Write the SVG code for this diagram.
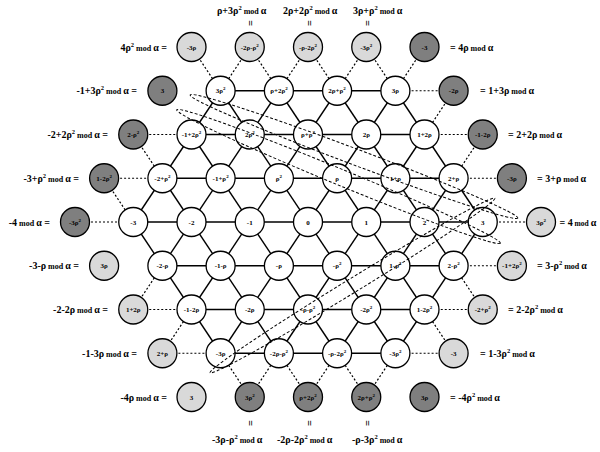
<svg xmlns="http://www.w3.org/2000/svg" width="600" height="452" viewBox="0 0 600 452">
<style>
text{font-family:"Liberation Serif","Times New Roman",serif;font-weight:bold;fill:#000}
.nl{font-size:7px;text-anchor:middle}
.sp{font-size:5px}
.lat line{stroke:#000;stroke-width:1.4}
.dot line{stroke:#000;stroke-width:1.2;stroke-dasharray:2 2}
.ell ellipse{fill:none;stroke:#000;stroke-width:1;stroke-dasharray:3 2}
circle{stroke:#000;stroke-width:1.3}
.w{fill:#fff}.l{fill:#d9d9d9}.d{fill:#7f7f7f}
.lab{font-size:10px}
.m{font-size:8px}
.s2{font-size:6.5px}
.eq{font-size:10px;text-anchor:middle}
</style>
<g id="connectors">
<g class="lat">
<line x1="220.6" y1="90.75" x2="395.4" y2="90.75"/>
<line x1="191.5" y1="134.5" x2="424.5" y2="134.5"/>
<line x1="162.4" y1="178.25" x2="453.6" y2="178.25"/>
<line x1="133.25" y1="222" x2="482.75" y2="222"/>
<line x1="162.4" y1="265.75" x2="453.6" y2="265.75"/>
<line x1="191.5" y1="309.5" x2="424.5" y2="309.5"/>
<line x1="220.6" y1="353.25" x2="395.4" y2="353.25"/>
<line x1="133.25" y1="222" x2="220.6" y2="353.25"/>
<line x1="162.4" y1="178.25" x2="278.9" y2="353.25"/>
<line x1="191.5" y1="134.5" x2="337.1" y2="353.25"/>
<line x1="220.6" y1="90.75" x2="395.4" y2="353.25"/>
<line x1="278.9" y1="90.75" x2="424.5" y2="309.5"/>
<line x1="337.1" y1="90.75" x2="453.6" y2="265.75"/>
<line x1="395.4" y1="90.75" x2="482.75" y2="222"/>
<line x1="482.75" y1="222" x2="395.4" y2="353.25"/>
<line x1="453.6" y1="178.25" x2="337.1" y2="353.25"/>
<line x1="424.5" y1="134.5" x2="278.9" y2="353.25"/>
<line x1="395.4" y1="90.75" x2="220.6" y2="353.25"/>
<line x1="337.1" y1="90.75" x2="191.5" y2="309.5"/>
<line x1="278.9" y1="90.75" x2="162.4" y2="265.75"/>
<line x1="220.6" y1="90.75" x2="133.25" y2="222"/>
</g>
<g class="dot">
<line x1="191.5" y1="47" x2="220.6" y2="90.75"/>
<line x1="249.75" y1="47" x2="220.6" y2="90.75"/>
<line x1="249.75" y1="47" x2="278.9" y2="90.75"/>
<line x1="308" y1="47" x2="278.9" y2="90.75"/>
<line x1="308" y1="47" x2="337.1" y2="90.75"/>
<line x1="366.25" y1="47" x2="337.1" y2="90.75"/>
<line x1="366.25" y1="47" x2="395.4" y2="90.75"/>
<line x1="424.5" y1="47" x2="395.4" y2="90.75"/>
<line x1="453.6" y1="90.75" x2="395.4" y2="90.75"/>
<line x1="453.6" y1="90.75" x2="424.5" y2="134.5"/>
<line x1="482.75" y1="134.5" x2="424.5" y2="134.5"/>
<line x1="482.75" y1="134.5" x2="453.6" y2="178.25"/>
<line x1="511.9" y1="178.25" x2="453.6" y2="178.25"/>
<line x1="541" y1="222" x2="482.75" y2="222"/>
<line x1="511.9" y1="265.75" x2="453.6" y2="265.75"/>
<line x1="482.75" y1="309.5" x2="424.5" y2="309.5"/>
<line x1="482.75" y1="309.5" x2="453.6" y2="265.75"/>
<line x1="453.6" y1="353.25" x2="395.4" y2="353.25"/>
<line x1="453.6" y1="353.25" x2="424.5" y2="309.5"/>
<line x1="366.25" y1="397" x2="395.4" y2="353.25"/>
<line x1="366.25" y1="397" x2="337.1" y2="353.25"/>
<line x1="308" y1="397" x2="337.1" y2="353.25"/>
<line x1="308" y1="397" x2="278.9" y2="353.25"/>
<line x1="249.75" y1="397" x2="278.9" y2="353.25"/>
<line x1="249.75" y1="397" x2="220.6" y2="353.25"/>
<line x1="162.4" y1="353.25" x2="220.6" y2="353.25"/>
<line x1="162.4" y1="353.25" x2="191.5" y2="309.5"/>
<line x1="133.25" y1="309.5" x2="191.5" y2="309.5"/>
<line x1="133.25" y1="309.5" x2="162.4" y2="265.75"/>
<line x1="75" y1="222" x2="133.25" y2="222"/>
<line x1="104.1" y1="178.25" x2="162.4" y2="178.25"/>
<line x1="104.1" y1="178.25" x2="133.25" y2="222"/>
<line x1="133.25" y1="134.5" x2="191.5" y2="134.5"/>
<line x1="133.25" y1="134.5" x2="162.4" y2="178.25"/>
</g>
</g>
<g id="nodes">
<g id="n1"><circle class="w" cx="220.6" cy="90.75" r="14.5"/><text class="nl" x="220.6" y="93.25">3ρ<tspan class="sp" dy="-3">2</tspan></text></g>
<g id="n2"><circle class="w" cx="278.9" cy="90.75" r="14.5"/><text class="nl" x="278.9" y="93.25">ρ+2ρ<tspan class="sp" dy="-3">2</tspan></text></g>
<g id="n3"><circle class="w" cx="337.1" cy="90.75" r="14.5"/><text class="nl" x="337.1" y="93.25">2ρ+ρ<tspan class="sp" dy="-3">2</tspan></text></g>
<g id="n4"><circle class="w" cx="395.4" cy="90.75" r="14.5"/><text class="nl" x="395.4" y="93.25">3ρ</text></g>
<g id="n5"><circle class="w" cx="191.5" cy="134.5" r="14.5"/><text class="nl" x="191.5" y="137">-1+2ρ<tspan class="sp" dy="-3">2</tspan></text></g>
<g id="n6"><circle class="w" cx="249.75" cy="134.5" r="14.5"/><text class="nl" x="249.75" y="137">2ρ<tspan class="sp" dy="-3">2</tspan></text></g>
<g id="n7"><circle class="w" cx="308" cy="134.5" r="14.5"/><text class="nl" x="308" y="137">ρ+ρ<tspan class="sp" dy="-3">2</tspan></text></g>
<g id="n8"><circle class="w" cx="366.25" cy="134.5" r="14.5"/><text class="nl" x="366.25" y="137">2ρ</text></g>
<g id="n9"><circle class="w" cx="424.5" cy="134.5" r="14.5"/><text class="nl" x="424.5" y="137">1+2ρ</text></g>
<g id="n10"><circle class="w" cx="162.4" cy="178.25" r="14.5"/><text class="nl" x="162.4" y="180.75">-2+ρ<tspan class="sp" dy="-3">2</tspan></text></g>
<g id="n11"><circle class="w" cx="220.6" cy="178.25" r="14.5"/><text class="nl" x="220.6" y="180.75">-1+ρ<tspan class="sp" dy="-3">2</tspan></text></g>
<g id="n12"><circle class="w" cx="278.9" cy="178.25" r="14.5"/><text class="nl" x="278.9" y="180.75">ρ<tspan class="sp" dy="-3">2</tspan></text></g>
<g id="n13"><circle class="w" cx="337.1" cy="178.25" r="14.5"/><text class="nl" x="337.1" y="180.75">ρ</text></g>
<g id="n14"><circle class="w" cx="395.4" cy="178.25" r="14.5"/><text class="nl" x="395.4" y="180.75">1+ρ</text></g>
<g id="n15"><circle class="w" cx="453.6" cy="178.25" r="14.5"/><text class="nl" x="453.6" y="180.75">2+ρ</text></g>
<g id="n16"><circle class="w" cx="133.25" cy="222" r="14.5"/><text class="nl" x="133.25" y="224.5">-3</text></g>
<g id="n17"><circle class="w" cx="191.5" cy="222" r="14.5"/><text class="nl" x="191.5" y="224.5">-2</text></g>
<g id="n18"><circle class="w" cx="249.75" cy="222" r="14.5"/><text class="nl" x="249.75" y="224.5">-1</text></g>
<g id="n19"><circle class="w" cx="308" cy="222" r="14.5"/><text class="nl" x="308" y="224.5">0</text></g>
<g id="n20"><circle class="w" cx="366.25" cy="222" r="14.5"/><text class="nl" x="366.25" y="224.5">1</text></g>
<g id="n21"><circle class="w" cx="424.5" cy="222" r="14.5"/><text class="nl" x="424.5" y="224.5">2</text></g>
<g id="n22"><circle class="w" cx="482.75" cy="222" r="14.5"/><text class="nl" x="482.75" y="224.5">3</text></g>
<g id="n23"><circle class="w" cx="162.4" cy="265.75" r="14.5"/><text class="nl" x="162.4" y="268.25">-2-ρ</text></g>
<g id="n24"><circle class="w" cx="220.6" cy="265.75" r="14.5"/><text class="nl" x="220.6" y="268.25">-1-ρ</text></g>
<g id="n25"><circle class="w" cx="278.9" cy="265.75" r="14.5"/><text class="nl" x="278.9" y="268.25">-ρ</text></g>
<g id="n26"><circle class="w" cx="337.1" cy="265.75" r="14.5"/><text class="nl" x="337.1" y="268.25">-ρ<tspan class="sp" dy="-3">2</tspan></text></g>
<g id="n27"><circle class="w" cx="395.4" cy="265.75" r="14.5"/><text class="nl" x="395.4" y="268.25">1-ρ<tspan class="sp" dy="-3">2</tspan></text></g>
<g id="n28"><circle class="w" cx="453.6" cy="265.75" r="14.5"/><text class="nl" x="453.6" y="268.25">2-ρ<tspan class="sp" dy="-3">2</tspan></text></g>
<g id="n29"><circle class="w" cx="191.5" cy="309.5" r="14.5"/><text class="nl" x="191.5" y="312">-1-2ρ</text></g>
<g id="n30"><circle class="w" cx="249.75" cy="309.5" r="14.5"/><text class="nl" x="249.75" y="312">-2ρ</text></g>
<g id="n31"><circle class="w" cx="308" cy="309.5" r="14.5"/><text class="nl" x="308" y="312">-ρ-ρ<tspan class="sp" dy="-3">2</tspan></text></g>
<g id="n32"><circle class="w" cx="366.25" cy="309.5" r="14.5"/><text class="nl" x="366.25" y="312">-2ρ<tspan class="sp" dy="-3">2</tspan></text></g>
<g id="n33"><circle class="w" cx="424.5" cy="309.5" r="14.5"/><text class="nl" x="424.5" y="312">1-2ρ<tspan class="sp" dy="-3">2</tspan></text></g>
<g id="n34"><circle class="w" cx="220.6" cy="353.25" r="14.5"/><text class="nl" x="220.6" y="355.75">-3ρ</text></g>
<g id="n35"><circle class="w" cx="278.9" cy="353.25" r="14.5"/><text class="nl" x="278.9" y="355.75">-2ρ-ρ<tspan class="sp" dy="-3">2</tspan></text></g>
<g id="n36"><circle class="w" cx="337.1" cy="353.25" r="14.5"/><text class="nl" x="337.1" y="355.75">-ρ-2ρ<tspan class="sp" dy="-3">2</tspan></text></g>
<g id="n37"><circle class="w" cx="395.4" cy="353.25" r="14.5"/><text class="nl" x="395.4" y="355.75">-3ρ<tspan class="sp" dy="-3">2</tspan></text></g>
<g id="o1"><circle class="l" cx="191.5" cy="47" r="14.5"/><text class="nl" x="191.5" y="49.5">-3ρ</text></g>
<g id="o2"><circle class="l" cx="249.75" cy="47" r="14.5"/><text class="nl" x="249.75" y="49.5">-2ρ-ρ<tspan class="sp" dy="-3">2</tspan></text></g>
<g id="o3"><circle class="l" cx="308" cy="47" r="14.5"/><text class="nl" x="308" y="49.5">-ρ-2ρ<tspan class="sp" dy="-3">2</tspan></text></g>
<g id="o4"><circle class="l" cx="366.25" cy="47" r="14.5"/><text class="nl" x="366.25" y="49.5">-3ρ<tspan class="sp" dy="-3">2</tspan></text></g>
<g id="o5"><circle class="d" cx="424.5" cy="47" r="14.5"/><text class="nl" x="424.5" y="49.5">-3</text></g>
<g id="o6"><circle class="d" cx="162.4" cy="90.75" r="14.5"/><text class="nl" x="162.4" y="93.25">3</text></g>
<g id="o7"><circle class="d" cx="453.6" cy="90.75" r="14.5"/><text class="nl" x="453.6" y="93.25">-2ρ</text></g>
<g id="o8"><circle class="d" cx="133.25" cy="134.5" r="14.5"/><text class="nl" x="133.25" y="137">2-ρ<tspan class="sp" dy="-3">2</tspan></text></g>
<g id="o9"><circle class="d" cx="482.75" cy="134.5" r="14.5"/><text class="nl" x="482.75" y="137">-1-2ρ</text></g>
<g id="o10"><circle class="d" cx="104.1" cy="178.25" r="14.5"/><text class="nl" x="104.1" y="180.75">1-2ρ<tspan class="sp" dy="-3">2</tspan></text></g>
<g id="o11"><circle class="d" cx="511.9" cy="178.25" r="14.5"/><text class="nl" x="511.9" y="180.75">-3ρ</text></g>
<g id="o12"><circle class="d" cx="75" cy="222" r="14.5"/><text class="nl" x="75" y="224.5">-3ρ<tspan class="sp" dy="-3">2</tspan></text></g>
<g id="o13"><circle class="l" cx="541" cy="222" r="14.5"/><text class="nl" x="541" y="224.5">3ρ<tspan class="sp" dy="-3">2</tspan></text></g>
<g id="o14"><circle class="l" cx="104.1" cy="265.75" r="14.5"/><text class="nl" x="104.1" y="268.25">3ρ</text></g>
<g id="o15"><circle class="l" cx="511.9" cy="265.75" r="14.5"/><text class="nl" x="511.9" y="268.25">-1+2ρ<tspan class="sp" dy="-3">2</tspan></text></g>
<g id="o16"><circle class="l" cx="133.25" cy="309.5" r="14.5"/><text class="nl" x="133.25" y="312">1+2ρ</text></g>
<g id="o17"><circle class="l" cx="482.75" cy="309.5" r="14.5"/><text class="nl" x="482.75" y="312">-2+ρ<tspan class="sp" dy="-3">2</tspan></text></g>
<g id="o18"><circle class="l" cx="162.4" cy="353.25" r="14.5"/><text class="nl" x="162.4" y="355.75">2+ρ</text></g>
<g id="o19"><circle class="l" cx="453.6" cy="353.25" r="14.5"/><text class="nl" x="453.6" y="355.75">-3</text></g>
<g id="o20"><circle class="l" cx="191.5" cy="397" r="14.5"/><text class="nl" x="191.5" y="399.5">3</text></g>
<g id="o21"><circle class="d" cx="249.75" cy="397" r="14.5"/><text class="nl" x="249.75" y="399.5">3ρ<tspan class="sp" dy="-3">2</tspan></text></g>
<g id="o22"><circle class="d" cx="308" cy="397" r="14.5"/><text class="nl" x="308" y="399.5">ρ+2ρ<tspan class="sp" dy="-3">2</tspan></text></g>
<g id="o23"><circle class="d" cx="366.25" cy="397" r="14.5"/><text class="nl" x="366.25" y="399.5">2ρ+ρ<tspan class="sp" dy="-3">2</tspan></text></g>
<g id="o24"><circle class="d" cx="424.5" cy="397" r="14.5"/><text class="nl" x="424.5" y="399.5">3ρ</text></g>
</g>
<g id="ellipses" class="ell">
<ellipse cx="354" cy="156.5" rx="175" ry="8" transform="rotate(20.6 354 156.5)"/>
<ellipse cx="338.5" cy="176.5" rx="175" ry="8" transform="rotate(22.4 338.5 176.5)"/>
<ellipse cx="352.5" cy="285.5" rx="167" ry="7" transform="rotate(-31.5 352.5 285.5)"/>
</g>
<g id="labels">
<text class="lab" x="217" y="14">ρ+3ρ<tspan class="s2" dy="-4">2</tspan><tspan class="m" dy="4"> mod </tspan>α</text>
<text class="lab" x="283" y="14">2ρ+2ρ<tspan class="s2" dy="-4">2</tspan><tspan class="m" dy="4"> mod </tspan>α</text>
<text class="lab" x="353" y="14">3ρ+ρ<tspan class="s2" dy="-4">2</tspan><tspan class="m" dy="4"> mod </tspan>α</text>
<text class="eq" x="0" y="2.5" transform="translate(249.75 23) rotate(90)">=</text>
<text class="eq" x="0" y="2.5" transform="translate(308 23) rotate(90)">=</text>
<text class="eq" x="0" y="2.5" transform="translate(366.25 23) rotate(90)">=</text>
<text class="eq" x="0" y="2.5" transform="translate(249.75 423) rotate(90)">=</text>
<text class="eq" x="0" y="2.5" transform="translate(308 423) rotate(90)">=</text>
<text class="eq" x="0" y="2.5" transform="translate(366.25 423) rotate(90)">=</text>
<text class="lab" x="212" y="443">-3ρ-ρ<tspan class="s2" dy="-4">2</tspan><tspan class="m" dy="4"> mod </tspan>α</text>
<text class="lab" x="277" y="443">-2ρ-2ρ<tspan class="s2" dy="-4">2</tspan><tspan class="m" dy="4"> mod </tspan>α</text>
<text class="lab" x="352" y="443">-ρ-3ρ<tspan class="s2" dy="-4">2</tspan><tspan class="m" dy="4"> mod </tspan>α</text>
<text class="lab" x="167" y="50.5" text-anchor="end">4ρ<tspan class="s2" dy="-4">2</tspan><tspan class="m" dy="4"> mod </tspan>α =</text>
<text class="lab" x="137" y="94.25" text-anchor="end">-1+3ρ<tspan class="s2" dy="-4">2</tspan><tspan class="m" dy="4"> mod </tspan>α =</text>
<text class="lab" x="108" y="138" text-anchor="end">-2+2ρ<tspan class="s2" dy="-4">2</tspan><tspan class="m" dy="4"> mod </tspan>α =</text>
<text class="lab" x="79" y="181.75" text-anchor="end">-3+ρ<tspan class="s2" dy="-4">2</tspan><tspan class="m" dy="4"> mod </tspan>α =</text>
<text class="lab" x="50" y="225.5" text-anchor="end">-4<tspan class="m"> mod </tspan>α =</text>
<text class="lab" x="79" y="269.25" text-anchor="end">-3-ρ<tspan class="m"> mod </tspan>α =</text>
<text class="lab" x="108" y="313" text-anchor="end">-2-2ρ<tspan class="m"> mod </tspan>α =</text>
<text class="lab" x="137" y="356.75" text-anchor="end">-1-3ρ<tspan class="m"> mod </tspan>α =</text>
<text class="lab" x="167" y="400.5" text-anchor="end">-4ρ<tspan class="m"> mod </tspan>α =</text>
<text class="lab" x="450" y="50.5">= 4ρ<tspan class="m"> mod </tspan>α</text>
<text class="lab" x="480" y="94.25">= 1+3ρ<tspan class="m"> mod </tspan>α</text>
<text class="lab" x="508" y="138">= 2+2ρ<tspan class="m"> mod </tspan>α</text>
<text class="lab" x="537" y="181.75">= 3+ρ<tspan class="m"> mod </tspan>α</text>
<text class="lab" x="559.5" y="225.5" font-size="9.5">= 4<tspan font-size="7.5"> mod </tspan>α</text>
<text class="lab" x="537" y="269.25">= 3-ρ<tspan class="s2" dy="-4">2</tspan><tspan class="m" dy="4"> mod </tspan>α</text>
<text class="lab" x="508" y="313">= 2-2ρ<tspan class="s2" dy="-4">2</tspan><tspan class="m" dy="4"> mod </tspan>α</text>
<text class="lab" x="480" y="356.75">= 1-3ρ<tspan class="s2" dy="-4">2</tspan><tspan class="m" dy="4"> mod </tspan>α</text>
<text class="lab" x="450" y="400.5">= -4ρ<tspan class="s2" dy="-4">2</tspan><tspan class="m" dy="4"> mod </tspan>α</text>
</g>
</svg>
